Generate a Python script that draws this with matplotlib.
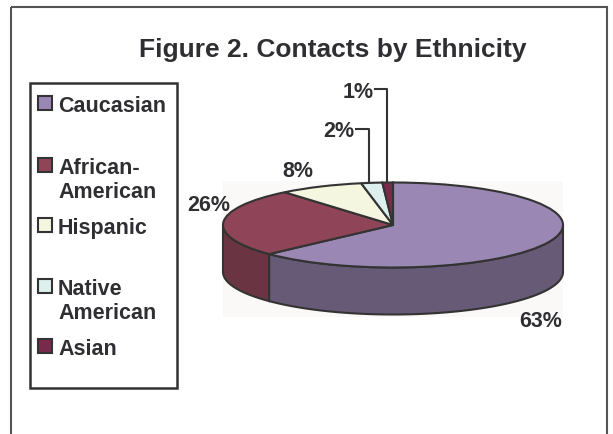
import matplotlib.pyplot as plt
import numpy as np
from matplotlib.patches import Rectangle

plt.rcParams['font.family'] = ['Liberation Sans', 'DejaVu Sans']

# data
categories = ['Caucasian', 'African-\nAmerican', 'Hispanic', 'Native\nAmerican', 'Asian']
shares = [63, 26, 8, 2, 1]
pct_labels = ['63%', '26%', '8%', '2%', '1%']
top_colors = ['#9a87b3', '#8f4557', '#f5f6df', '#ddf0ee', '#7a2a4a']
side_colors = ['#675a76', '#6b3443', '#c0c1a8', '#a8bbb9', '#5a1f37']

W, H = 613, 435
TXT = '#2f2f33'
EDGE = '#333333'

fig = plt.figure(figsize=(W / 100, H / 100), dpi=100)

# background axes in pixel units: frame, title, legend, labels
bg = fig.add_axes([0, 0, 1, 1])
bg.set_xlim(0, W)
bg.set_ylim(H, 0)
bg.axis('off')

bg.add_patch(Rectangle((11, 8), 596, 440, fill=False, ec='#555555', lw=1.5))
bg.text(333, 57, 'Figure 2. Contacts by Ethnicity', ha='center', va='baseline',
        fontsize=19, fontweight='bold', color=TXT)
# faint plot area behind the pie
bg.add_patch(Rectangle((223, 182), 340, 136, fc='#faf9f7', ec='none'))

# legend (drawn by hand so the swatch sits on the first line)
bg.add_patch(Rectangle((30, 84), 147, 305, fill=False, ec=EDGE, lw=1.8))
entry_y = [104, 166, 226, 287, 347]
for lab, col, y in zip(categories, top_colors, entry_y):
    bg.add_patch(Rectangle((38, y - 7), 14, 14, fc=col, ec=EDGE, lw=1.5))
    for i, line in enumerate(lab.split('\n')):
        bg.text(58, y + 7.7 + i * 24, line, ha='left', va='baseline',
                fontsize=15.5, fontweight='bold', color=TXT)

# pie axes: ellipse via unequal x/y scale
cx, cy, rx, ry = 393, 226, 170, 42.5
depth = 47 / ry
ax = fig.add_axes([0, 0, 1, 1])
ax.patch.set_visible(False)
wedges, _ = ax.pie(shares, colors=top_colors, startangle=90, counterclock=False,
                   wedgeprops=dict(edgecolor=EDGE, linewidth=1.5))
for w in wedges:
    w.set_zorder(3)
ax.set_aspect('auto')
ax.set_xlim(-cx / rx, (W - cx) / rx)
ax.set_ylim(-(H - cy) / ry, cy / ry)
ax.axis('off')

# side band for the front half of the pie
for w, col in zip(wedges, side_colors):
    for k in (-360, 0):
        lo = max(w.theta1, 180 + k)
        hi = min(w.theta2, 360 + k)
        if hi <= lo:
            continue
        t = np.radians(np.linspace(lo, hi, 100))
        xs = np.concatenate([np.cos(t), np.cos(t[::-1])])
        ys = np.concatenate([np.sin(t), np.sin(t[::-1]) - depth])
        ax.fill(xs, ys, fc=col, ec=EDGE, lw=1.5, zorder=2)

# percentage labels
label_pos = [(541, 319.5), (209, 204), (297.5, 170), (338.5, 130), (358, 90)]
for txt, (x, y) in zip(pct_labels, label_pos):
    bg.text(x, y + 7.5, txt, ha='center', va='baseline', fontsize=15.5,
            fontweight='bold', color=TXT)
bg.plot([356, 369, 369], [130, 130, 183], color=EDGE, lw=1.5)
bg.plot([375, 387, 387], [90, 90, 184], color=EDGE, lw=1.5)

fig.savefig('out.png', dpi=100)
